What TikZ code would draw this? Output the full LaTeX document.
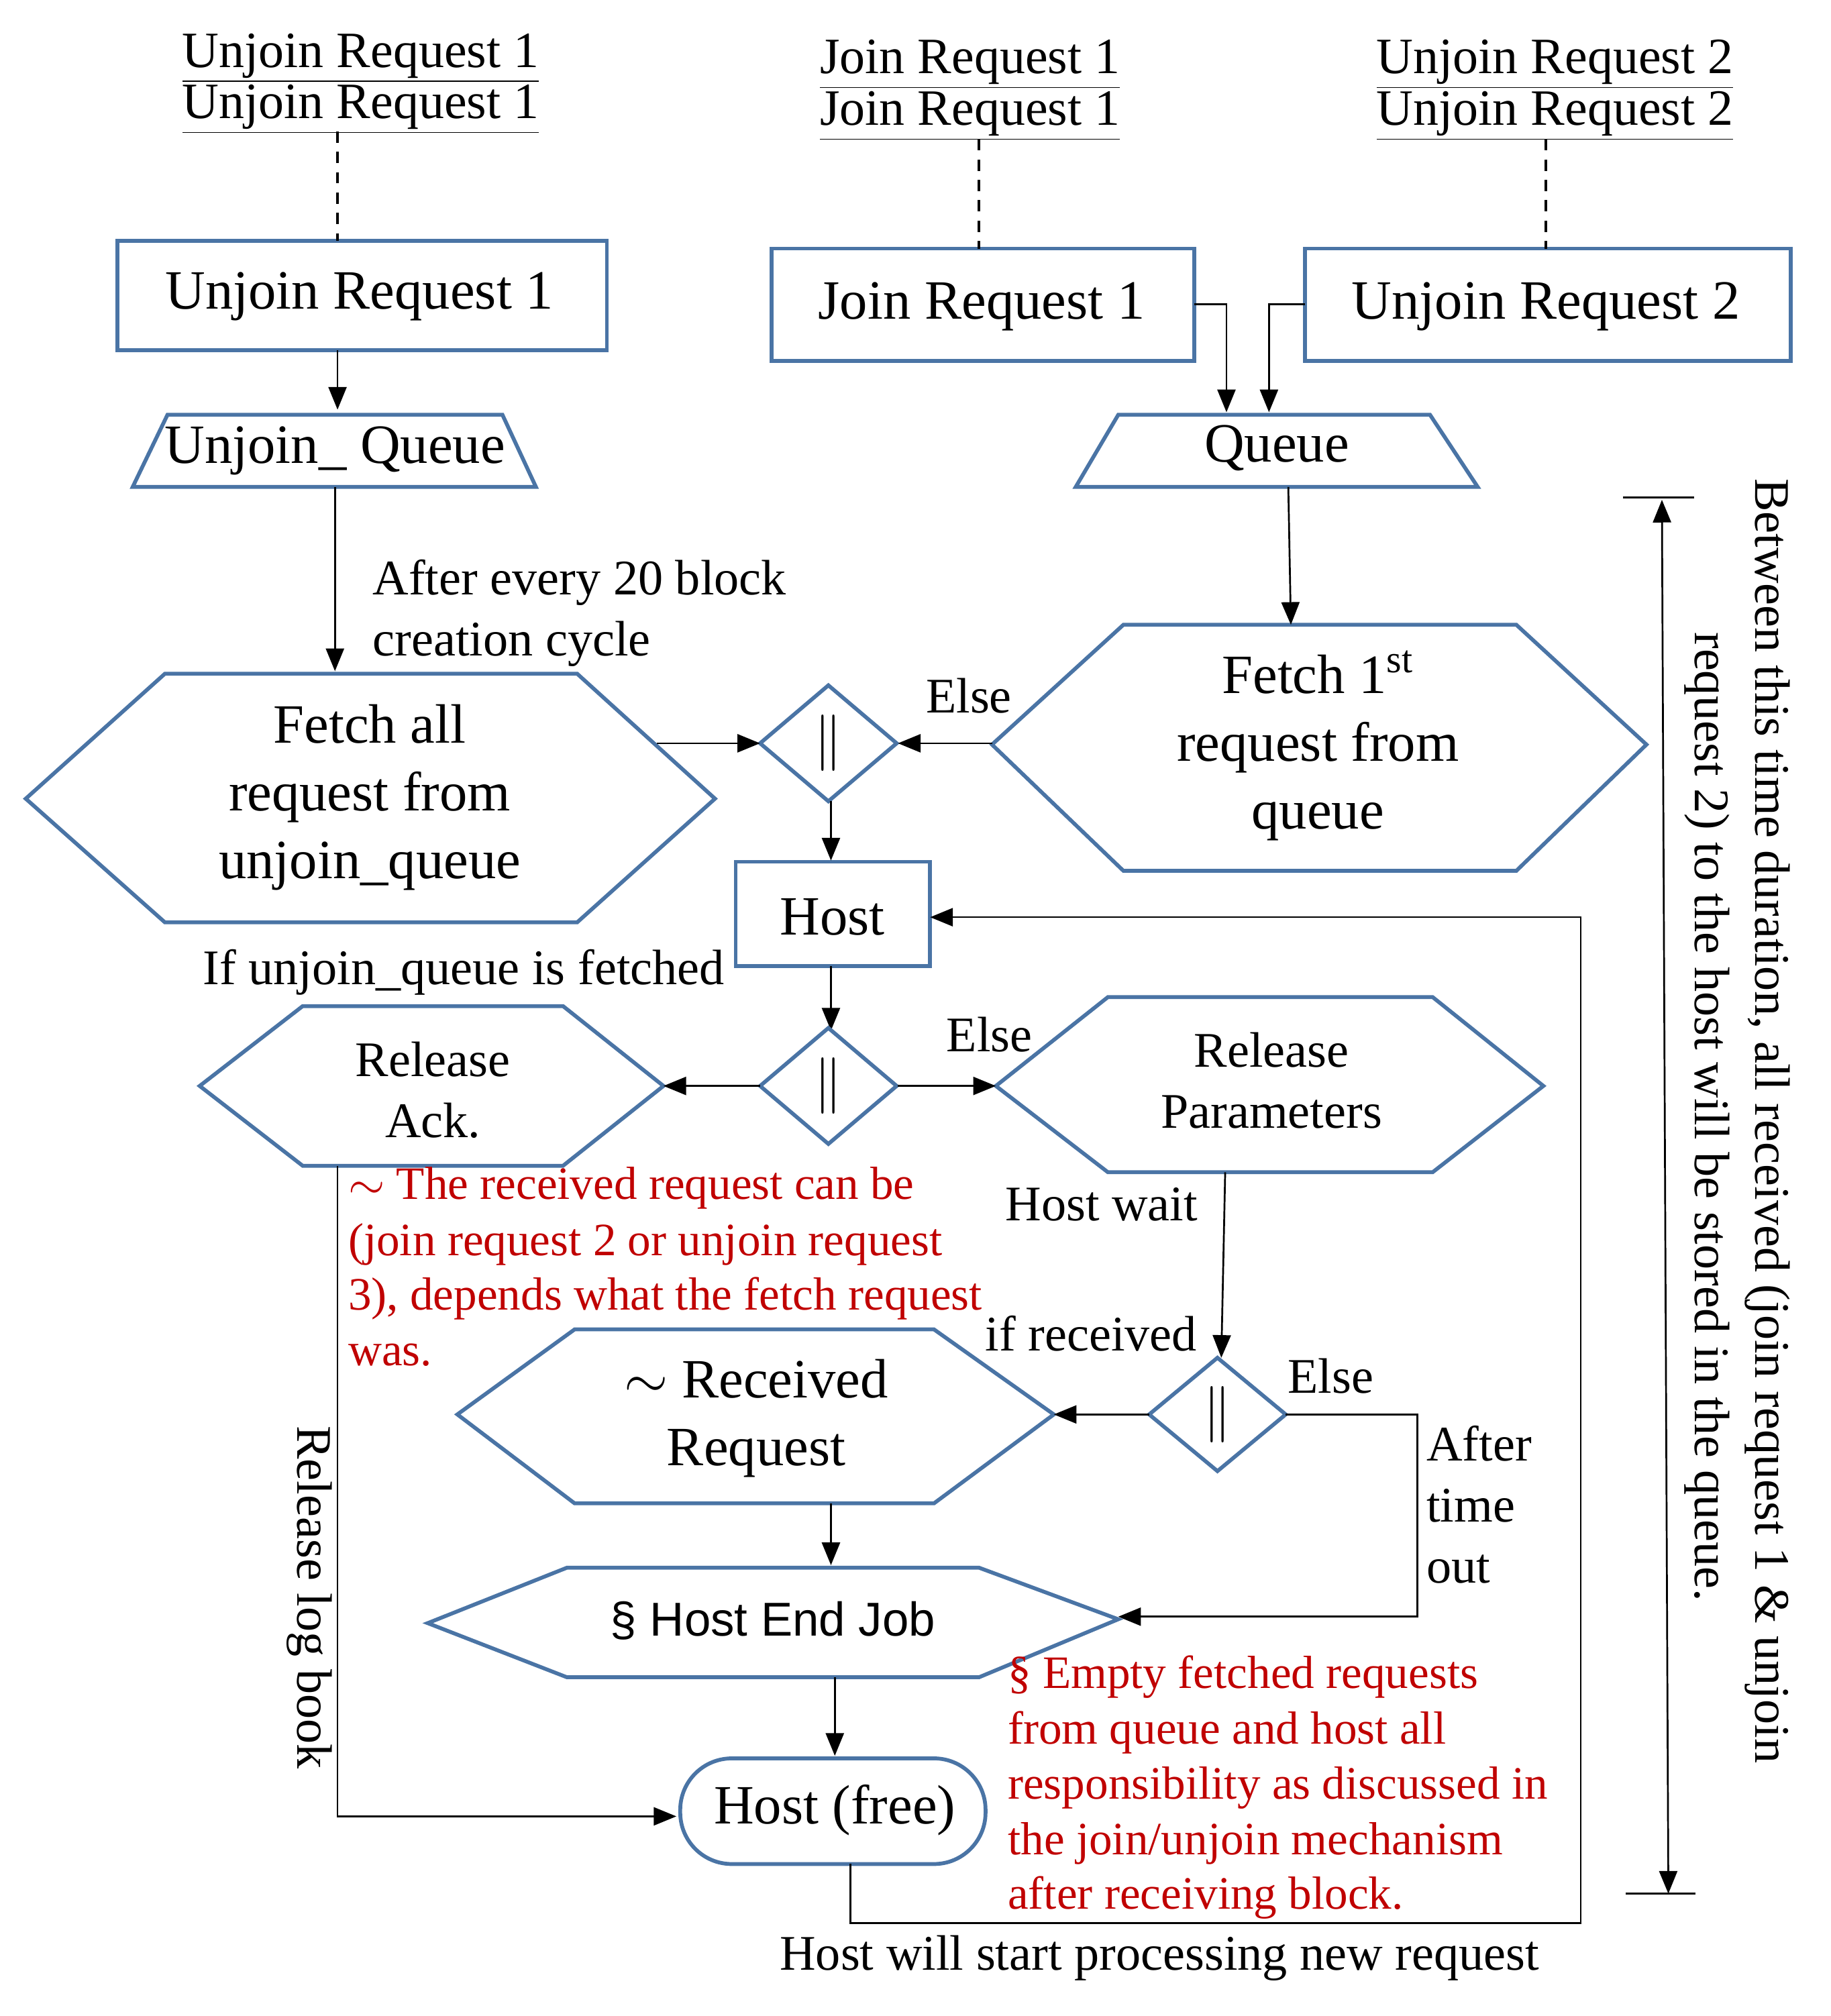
\documentclass[tikz,border=0pt]{standalone}
\usepackage{fontspec}
\setmainfont{Liberation Serif}
\newfontfamily\sansf{Liberation Sans}
\usetikzlibrary{arrows.meta}
\definecolor{bl}{HTML}{4A74A5}
\definecolor{rd}{HTML}{C00000}
\begin{document}
\begin{tikzpicture}[x=0.02cm,y=-0.02cm,
 shp/.style={draw=bl,line width=1.7pt,fill=white},
 arr/.style={line width=0.8pt,-{Triangle[length=10pt,width=8pt]}},
 ln/.style={line width=0.8pt},
 big/.style={font=\fontsize{24.5}{30}\selectfont,inner sep=0pt},
 mid/.style={font=\fontsize{22}{27}\selectfont,inner sep=0pt},
 lab/.style={font=\fontsize{22.5}{26}\selectfont,inner sep=0pt},
 red/.style={font=\fontsize{20.5}{24}\selectfont,text=rd,inner sep=0pt,anchor=west},
 dsh/.style={line width=1.2pt,dash pattern=on 5pt off 4pt},
 dia/.style={shp}]
\useasboundingbox (0,0) rectangle (1421,1565);
% top labels
\node[lab] (t1) at (280,45) {\underline{Unjoin Request 1}};
\node[lab] (t2) at (280,85) {\underline{Unjoin Request 1}};
\node[lab] (t3) at (753,50) {\underline{Join Request 1}};
\node[lab] (t4) at (753,90) {\underline{Join Request 1}};
\node[lab] (t5) at (1207,50) {\underline{Unjoin Request 2}};
\node[lab] (t6) at (1207,90) {\underline{Unjoin Request 2}};
% boxes
\draw[shp] (91,187) rectangle (471,272); \node[big] (ur1) at (279,230) {Unjoin Request 1};
\draw[shp] (599,193) rectangle (927,280); \node[big] (jr1) at (762,238) {Join Request 1};
\draw[shp] (1013,193) rectangle (1390,280); \node[big] (ur2) at (1200,238) {Unjoin Request 2};
\draw[dsh] (262,102) -- (262,187);
\draw[dsh] (760,108) -- (760,193);
\draw[dsh] (1200,108) -- (1200,193);
% trapezoids
\draw[shp] (130,322) -- (390,322) -- (416,378) -- (103,378) -- cycle;
\node[big] (uq) at (260,350) {Unjoin\_ Queue};
\draw[shp] (868,322) -- (1110,322) -- (1147,378) -- (835,378) -- cycle;
\node[big] (q) at (991,348) {Queue};
\coordinate (a1) at (262,272); \coordinate (a2) at (262,318);
\draw[arr] (a1) -- (a2);
\coordinate (j1) at (927,236); \coordinate (j2) at (952,320);
\draw[arr] (j1) -| (j2);
\coordinate (u1) at (1013,236); \coordinate (u2) at (985,320);
\draw[arr] (u1) -| (u2);
% fetch all
\draw[shp] (20,620) -- (128,523) -- (448,523) -- (555,620) -- (448,716) -- (128,716) -- cycle;
\node[big,align=center] (fa) at (287,619) {Fetch all\\request from\\unjoin\_queue};
\coordinate (b1) at (260,378); \coordinate (b2) at (260,521);
\draw[arr] (b1) -- (b2);
\node[mid,anchor=west,align=left] (ae) at (289,476) {After every 20 block\\creation cycle};
% diamond 1
\draw[dia] (590,577) -- (643,532) -- (696,577) -- (643,622) -- cycle;
\node[big] (d1) at (643,577) {$\|$};
% fetch 1st
\draw[shp] (770,578) -- (872,485) -- (1177,485) -- (1278,578) -- (1177,676) -- (872,676) -- cycle;
\node[big,align=center] (f1) at (1023,579) {Fetch 1\textsuperscript{st}\\request from\\queue};
\coordinate (c1) at (1000,378); \coordinate (c2) at (1002,485);
\draw[arr] (c1) -- (c2);
\coordinate (e1) at (510,577); \coordinate (e2) at (590,577);
\draw[arr] (e1) -- (e2);
\coordinate (e3) at (770,577); \coordinate (e4) at (697,577);
\draw[arr] (e3) -- (e4);
\node[mid] (else1) at (752,540) {Else};
% host
\draw[shp] (571,669) rectangle (722,750); \node[big] (host) at (646,712) {Host};
\coordinate (h1) at (645,622); \coordinate (h2) at (645,668);
\draw[arr] (h1) -- (h2);
\coordinate (h3) at (645,750); \coordinate (h4) at (645,800);
\draw[arr] (h3) -- (h4);
\node[mid] (iu) at (360,755) {If unjoin\_queue is fetched};
% diamond 2
\draw[dia] (590,843) -- (643,798) -- (696,843) -- (643,888) -- cycle;
\node[big] (d2) at (643,843) {$\|$};
% release ack
\draw[shp] (155,843) -- (235,781) -- (437,781) -- (515,843) -- (437,905) -- (235,905) -- cycle;
\node[mid,align=center] (ra) at (336,846) {Release\\Ack.};
% release params
\draw[shp] (773,843) -- (860,774) -- (1112,774) -- (1198,843) -- (1112,910) -- (860,910) -- cycle;
\node[mid,align=center] (rp) at (987,839) {Release\\Parameters};
\coordinate (g1) at (590,843); \coordinate (g2) at (515,843);
\draw[arr] (g1) -- (g2);
\coordinate (g3) at (697,843); \coordinate (g4) at (773,843);
\draw[arr] (g3) -- (g4);
\node[mid] (else2) at (768,803) {Else};
% red text 1
\node[red] (r1) at (270,922) {$\sim$ The received request can be};
\node[red] (r2) at (270,966) {(join request 2 or unjoin request};
\node[red] (r3) at (270,1008) {3), depends what the fetch request};
\node[red] (r4) at (270,1052) {was.};
\node[mid] (hw) at (855,935) {Host wait};
\coordinate (k1) at (951,910); \coordinate (k2) at (948,1054);
\draw[arr] (k1) -- (k2);
\node[mid] (ir) at (847,1035) {if received};
% diamond 3
\draw[dia] (892,1098) -- (945,1054) -- (998,1098) -- (945,1142) -- cycle;
\node[big] (d3) at (945,1098) {$\|$};
% received request
\draw[shp] (355,1098) -- (446,1032) -- (725,1032) -- (818,1098) -- (725,1167) -- (446,1167) -- cycle;
\node[big,align=center] (rr) at (587,1101) {$\sim$ Received\\Request};
\coordinate (m1) at (892,1098); \coordinate (m2) at (818,1098);
\draw[arr] (m1) -- (m2);
\node[mid] (else3) at (1033,1068) {Else};
\coordinate (n1) at (998,1098); \coordinate (n2) at (1100,1255); \coordinate (n3) at (868,1255);
\draw[arr] (n1) -| (n2) -- (n3);
\node[mid,anchor=west,align=left] (ato) at (1107,1168) {After\\time\\out};
% host end job
\draw[shp] (332,1260) -- (440,1217) -- (760,1217) -- (868,1257) -- (760,1302) -- (440,1302) -- cycle;
\node[font=\sansf\fontsize{21}{25}\selectfont,inner sep=0pt] (hej) at (600,1258) {\S\ Host End Job};
\coordinate (p1) at (645,1167); \coordinate (p2) at (645,1215);
\draw[arr] (p1) -- (p2);
\coordinate (p3) at (648,1302); \coordinate (p4) at (648,1363);
\draw[arr] (p3) -- (p4);
% host free
\draw[shp,rounded corners=0.8cm] (528,1365) rectangle (765,1447);
\node[big] (hf) at (648,1405) {Host (free)};
\coordinate (s1) at (262,905); \coordinate (s2) at (525,1410);
\draw[arr] (s1) |- (s2);
\node[mid,rotate=-90] (rlb) at (240,1240) {Release log book};
\coordinate (v1) at (660,1447); \coordinate (v2) at (1227,1493); \coordinate (v3) at (722,712);
\draw[arr] (v1) |- (v2) |- (v3);
\node[mid] (hs) at (900,1520) {Host will start processing new request};
% red text 2
\node[red] (q1) at (782,1302) {\S\ Empty fetched requests};
\node[red] (q2) at (782,1345) {from queue and host all};
\node[red] (q3) at (782,1388) {responsibility as discussed in};
\node[red] (q4) at (782,1431) {the join/unjoin mechanism};
\node[red] (q5) at (782,1473) {after receiving block.};
% right arrow
\coordinate (w1) at (1290,388); \coordinate (w2) at (1295,1470);
\draw[ln,{Triangle[length=10pt,width=8pt]}-{Triangle[length=10pt,width=8pt]}] (w1) -- (w2);
\draw[ln] (1260,386) -- (1315,386);
\draw[ln] (1262,1470) -- (1316,1470);
\node[mid,rotate=-90] (bt1) at (1372,870) {Between this time duration, all received (join request 1 \& unjoin};
\node[mid,rotate=-90] (bt2) at (1325,867) {request 2) to the host will be stored in the queue.};
\end{tikzpicture}
\end{document}
